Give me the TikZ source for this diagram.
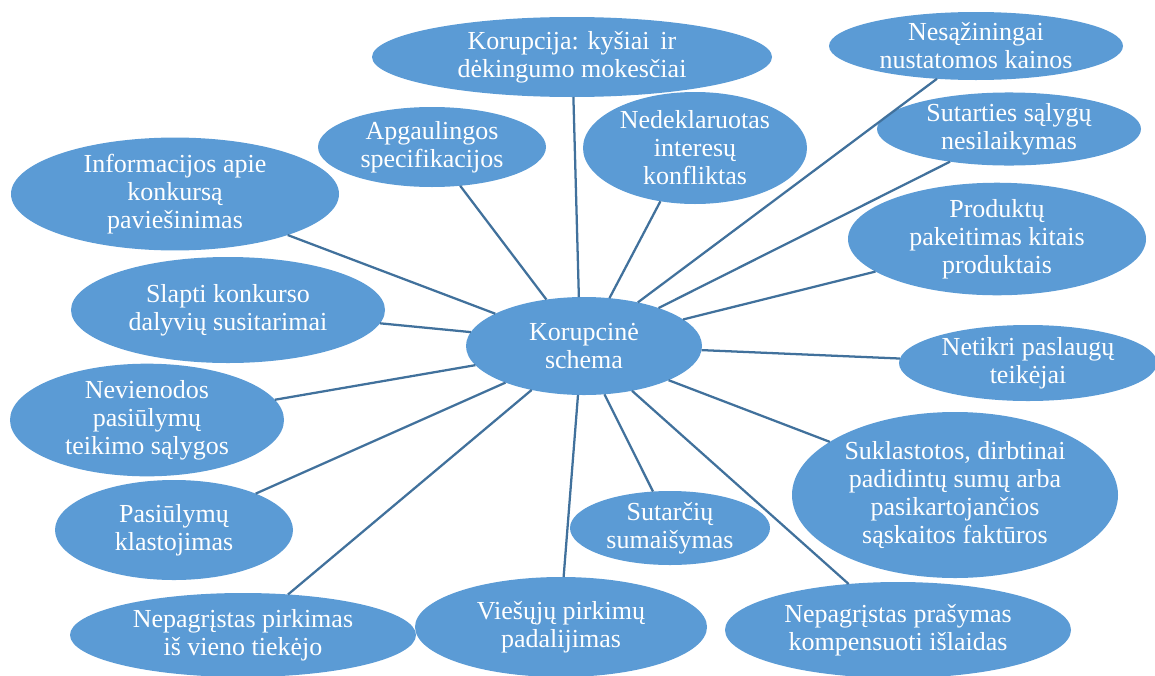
\documentclass[tikz,border=0pt]{standalone}
\usepackage{fontspec}
\setmainfont{Liberation Serif}
\usetikzlibrary{shapes.geometric}
\definecolor{blobfill}{HTML}{5B9BD5}
\definecolor{spoke}{HTML}{41719C}
\begin{document}
\begin{tikzpicture}[x=0.75pt,y=-0.75pt,
  blob/.style 2 args={ellipse, fill=blobfill, draw=none, inner sep=0pt, outer sep=0pt,
    minimum width=#1*1.5pt, minimum height=#2*1.5pt, text=white, align=center,
    font=\fontsize{19.5}{21}\selectfont},
  spokeline/.style={draw=spoke, line width=1.7pt}]
\useasboundingbox (0,0) rectangle (1155,675);

% hub
\node[blob={118}{49}] (hub) at (584,346) {Korupcinė\\schema};

% surrounding schemes
\node[blob={200}{40}] (kor) at (572,57) {Korupcija: kyšiai\, ir\\dėkingumo mokesčiai};
\node[blob={147}{34}] (kain) at (976,46) {Nesąžiningai\\nustatomos kainos};
\node[blob={132}{31}] (sut) at (1009,129) {Sutarties sąlygų\\nesilaikymas};
\node[blob={114}{40}] (apg) at (432,147) {Apgaulingos\\specifikacijos};
\node[blob={112}{56}] (ned) at (695,148) {Nedeklaruotas\\interesų\\konfliktas};
\node[blob={164}{51}] (inf) at (175,194) {Informacijos apie\\konkursą\\paviešinimas};
\node[blob={149}{44}] (prod) at (997,239) {Produktų\\pakeitimas kitais\\produktais};
\node[blob={157}{53}] (slap) at (228,310) {Slapti konkurso\\dalyvių susitarimai};
\node[blob={129}{38}] (net) at (1028,363) {Netikri paslaugų\\teikėjai};
\node[blob={137}{55}] (nev) at (147,420) {Nevienodos\\pasiūlymų\\teikimo sąlygos};
\node[blob={163}{83}] (sukl) at (955,495) {Suklastotos, dirbtinai\\padidintų sumų arba\\pasikartojančios\\sąskaitos faktūros};
\node[blob={119}{50}] (pas) at (174,530) {Pasiūlymų\\klastojimas};
\node[blob={100}{37}] (sum) at (670,528) {Sutarčių\\sumaišymas};
\node[blob={173}{42}] (pirk) at (243,635) {Nepagrįstas pirkimas\\iš vieno tiekėjo};
\node[blob={146}{50}] (pad) at (561,627) {Viešųjų pirkimų\\padalijimas};
\node[blob={173}{48}] (komp) at (898,630) {Nepagrįstas prašymas\\kompensuoti išlaidas};

% spokes from the hub
\draw[spokeline] (hub.160.3) -- (inf.-20.7);
\draw[spokeline] (hub.173.7) -- (slap.-5.9);
\draw[spokeline] (hub.129.9) -- (apg.-54.2);
\draw[spokeline] (hub.96.7) -- (kor.-88.7);
\draw[spokeline] (hub.62.5) -- (ned.-123.2);
\draw[spokeline] (hub.39.4) -- (kain.-140.7);
\draw[spokeline] (hub.27.8) -- (sut.-151.5);
\draw[spokeline] (hub.15.2) -- (prod.-165.2);
\draw[spokeline] (hub.-2.0) -- (net.178.2);
\draw[spokeline] (hub.-22.3) -- (sukl.157.5);
\draw[spokeline] (hub.-43.8) -- (komp.137.2);
\draw[spokeline] (hub.-67.6) -- (sum.115.3);
\draw[spokeline] (hub.-97.7) -- (pad.87.9);
\draw[spokeline] (hub.-140.5) -- (pirk.42);
\draw[spokeline] (hub.-155.9) -- (pas.24.9);
\draw[spokeline] (hub.-170.5) -- (nev.9.6);
\end{tikzpicture}
\end{document}
